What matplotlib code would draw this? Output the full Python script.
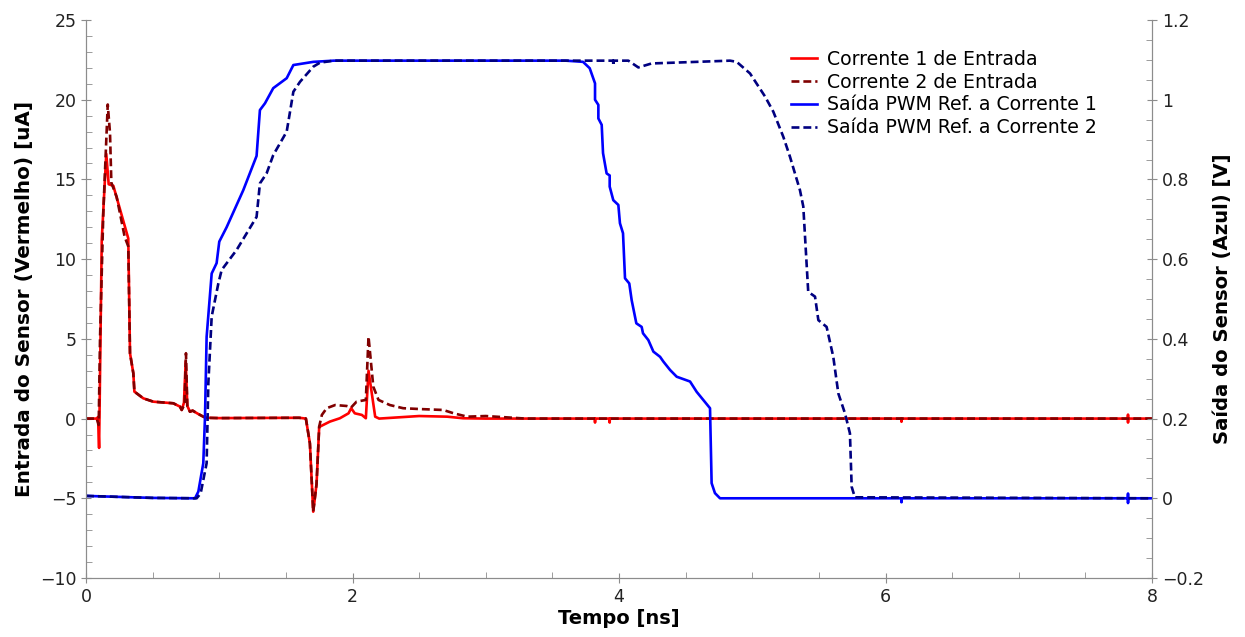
import matplotlib
matplotlib.use("Agg")
from matplotlib import pyplot as plt
from matplotlib.ticker import MultipleLocator

# tempo [ns] / corrente [uA] - entrada 1
t_in1 = [0, 0.08, 0.09, 0.098, 0.118, 0.152, 0.17, 0.205, 0.317, 0.33, 0.355, 0.363,
         0.43, 0.505, 0.655, 0.705, 0.718, 0.735, 0.748, 0.76, 0.78, 0.8, 0.84, 0.88,
         0.9, 1.0, 1.6, 1.65, 1.68, 1.705, 1.73, 1.75, 1.756, 1.83, 1.905, 1.97, 1.99,
         2.017, 2.07, 2.1, 2.12, 2.17, 2.2, 2.5, 2.71, 2.83, 3.0,
         3.819, 3.82, 3.821, 3.929, 3.93, 3.931, 6.119, 6.12, 6.121,
         7.819, 7.82, 7.82, 7.821, 8]
i_in1 = [0, 0, 0.1, -1.84, 11.2, 16.6, 14.7, 14.6, 11.3, 4.1, 2.84, 1.69,
         1.27, 1.06, 0.96, 0.75, 0.54, 1.0, 3.6, 0.8, 0.43, 0.5, 0.3, 0.12,
         0.05, 0.03, 0.05, 0, -1.55, -5.84, -4.1, -0.5, -0.5, -0.19, 0.02, 0.33, 0.65,
         0.33, 0.23, 0.02, 3.0, 0.12, 0.0, 0.16, 0.12, 0.02, 0,
         0, -0.25, 0, 0, -0.25, 0, 0, -0.2, 0,
         0, 0.25, -0.25, 0, 0]

# entrada 2
t_in2 = [0, 0.08, 0.095, 0.105, 0.13, 0.163, 0.18, 0.19, 0.23, 0.29, 0.317, 0.33,
         0.355, 0.363, 0.43, 0.505, 0.655, 0.705, 0.718, 0.74, 0.75, 0.76, 0.78, 0.8,
         0.84, 0.88, 0.9, 1.0, 1.6, 1.65, 1.68, 1.705, 1.73, 1.75, 1.77, 1.806, 1.87,
         1.956, 1.99, 2.03, 2.1, 2.12, 2.156, 2.195, 2.28, 2.38, 2.5, 2.68, 2.76,
         2.86, 3.0, 3.3, 8]
i_in2 = [0, 0, -0.4, 5.0, 13.0, 19.7, 17.9, 14.8, 13.9, 11.4, 10.8, 4.1,
         2.84, 1.69, 1.27, 1.06, 0.96, 0.75, 0.54, 0.9, 4.1, 0.8, 0.43, 0.5,
         0.3, 0.12, 0.05, 0.03, 0.05, 0, -1.55, -5.84, -4.1, -0.5, 0.23, 0.65, 0.85,
         0.79, 0.7, 1.06, 1.17, 5.14, 2.0, 1.17, 0.85, 0.65, 0.6, 0.54, 0.33,
         0.12, 0.16, 0, 0]

# saida PWM [V] - ref. corrente 1
t_out1 = [0, 0.5, 0.818, 0.843, 0.88, 0.893, 0.905, 0.943, 0.98, 1.0, 1.055, 1.18,
          1.28, 1.305, 1.343, 1.405, 1.506, 1.556, 1.706, 1.86, 3.6, 3.73, 3.78, 3.82,
          3.82, 3.845, 3.845, 3.87, 3.88, 3.907, 3.93, 3.93, 3.957, 3.995, 4.007, 4.03,
          4.045, 4.077, 4.095, 4.13, 4.17, 4.18, 4.22, 4.258, 4.308, 4.333, 4.383,
          4.433, 4.533, 4.583, 4.683, 4.695, 4.72, 4.758, 6.119, 6.12, 6.121,
          7.819, 7.82, 7.82, 7.821, 8]
v_out1 = [0.006, 0.001, 0.0, 0.017, 0.088, 0.205, 0.405, 0.564, 0.59, 0.644, 0.68, 0.773,
          0.859, 0.974, 0.991, 1.029, 1.054, 1.087, 1.095, 1.098, 1.098, 1.095, 1.079, 1.041,
          1.0, 0.987, 0.953, 0.937, 0.866, 0.815, 0.81, 0.782, 0.748, 0.736, 0.69, 0.665,
          0.552, 0.539, 0.497, 0.439, 0.43, 0.414, 0.397, 0.368, 0.355, 0.343, 0.322,
          0.305, 0.293, 0.267, 0.226, 0.038, 0.013, 0.0, 0, -0.01, 0,
          0, 0.012, -0.012, 0, 0]

# saida PWM [V] - ref. corrente 2
t_out2 = [0, 0.5, 0.83, 0.86, 0.905, 0.918, 0.943, 0.993, 1.018, 1.13, 1.28, 1.305,
          1.355, 1.405, 1.506, 1.556, 1.606, 1.706, 1.756, 1.86, 3.956, 3.957, 3.958,
          4.07, 4.145, 4.245, 4.5, 4.833, 4.883, 4.983, 5.096, 5.158, 5.233, 5.283,
          5.358, 5.383, 5.42, 5.471, 5.496, 5.558, 5.608, 5.646, 5.696, 5.733, 5.746,
          5.77, 8]
v_out2 = [0.006, 0.001, 0.0, 0.012, 0.088, 0.289, 0.456, 0.539, 0.573, 0.623, 0.706, 0.79,
          0.815, 0.861, 0.92, 1.02, 1.045, 1.083, 1.093, 1.098, 1.098, 1.085, 1.098,
          1.098, 1.081, 1.091, 1.094, 1.098, 1.095, 1.066, 1.008, 0.97, 0.907, 0.857,
          0.773, 0.732, 0.518, 0.506, 0.447, 0.43, 0.355, 0.263, 0.213, 0.163, 0.029,
          0.0025, 0.0]

labels = ["Corrente 1 de Entrada", "Corrente 2 de Entrada",
          "Saída PWM Ref. a Corrente 1", "Saída PWM Ref. a Corrente 2"]

dash = (0, (3, 1.5))
spine_color = "#8c8c8c"

fig = plt.figure(figsize=(12.45, 6.37), dpi=100)
ax = fig.add_axes([0.0691, 0.0926, 0.8562, 0.876])
ax2 = ax.twinx()

l1, = ax.plot(t_in1, i_in1, color="#ff0000", linewidth=1.9, label=labels[0])
l2, = ax.plot(t_in2, i_in2, color="#800000", linewidth=1.9, linestyle=dash, label=labels[1])
l3, = ax2.plot(t_out1, v_out1, color="#0000ff", linewidth=1.9, label=labels[2])
l4, = ax2.plot(t_out2, v_out2, color="#000080", linewidth=1.9, linestyle=dash, label=labels[3])

ax.set_xlim(0, 8)
ax.set_ylim(-10, 25)
ax2.set_ylim(-0.2, 1.2)

ax.xaxis.set_major_locator(MultipleLocator(2))
ax.xaxis.set_minor_locator(MultipleLocator(0.5))
ax.yaxis.set_major_locator(MultipleLocator(5))
ax.yaxis.set_minor_locator(MultipleLocator(1))
ax2.yaxis.set_major_locator(MultipleLocator(0.2))
ax2.yaxis.set_minor_locator(MultipleLocator(0.05))
ax2.set_yticks([-0.2, 0, 0.2, 0.4, 0.6, 0.8, 1, 1.2])
ax2.set_yticklabels(["\u22120.2", "0", "0.2", "0.4", "0.6", "0.8", "1", "1.2"])

for a in (ax, ax2):
    a.spines["top"].set_visible(False)
    for s in ("left", "right", "bottom"):
        a.spines[s].set_color(spine_color)
    a.tick_params(which="major", direction="inout", length=7, color=spine_color,
                  labelsize=12.5, labelcolor="#222222")
    a.tick_params(which="minor", direction="in", length=4, color=spine_color)

ax.set_xlabel("Tempo [ns]", fontsize=14, fontweight="bold", labelpad=2)
ax.set_ylabel("Entrada do Sensor (Vermelho) [uA]", fontsize=14.4, fontweight="bold", labelpad=4)
ax2.set_ylabel("Saída do Sensor (Azul) [V]", fontsize=14.1, fontweight="bold", labelpad=7)

ax2.legend(handles=[l1, l2, l3, l4], loc="upper right", bbox_to_anchor=(0.955, 0.96),
           frameon=False, fontsize=13.6, handlelength=1.4, handletextpad=0.5,
           labelspacing=0.2, borderaxespad=0)

fig.savefig("out.png", dpi=100)
